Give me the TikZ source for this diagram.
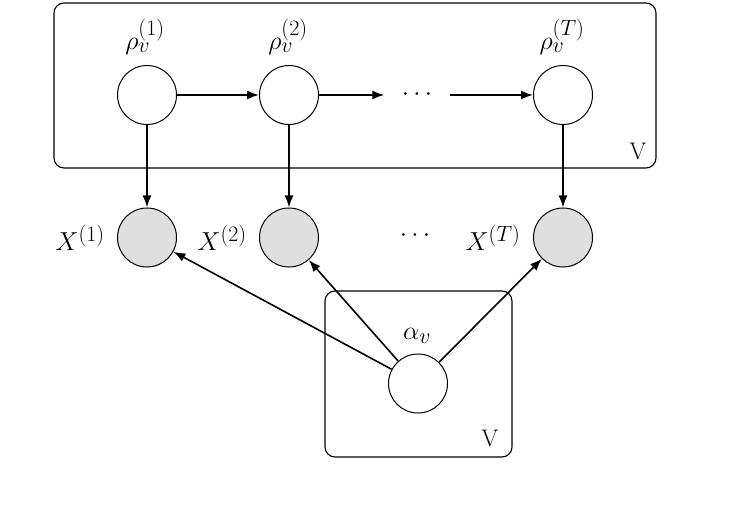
\RequirePackage{fix-cm}
\documentclass[tikz,border=0pt]{standalone}
\usetikzlibrary{arrows.meta}
\DeclareMathSizes{26}{26}{22}{16}
\begin{document}
\begin{tikzpicture}[x=1pt,y=-1pt,
  every node/.style={font=\fontsize{26}{30}\selectfont},
  var/.style={circle,draw,line width=1pt,minimum size=59pt,inner sep=0pt},
  obs/.style={var,fill=gray!25},
  plate/.style={draw,line width=1.1pt,rounded corners=10pt},
  edge/.style={line width=1.6pt,-{Latex[length=12pt,width=9pt]}},
  lbl/.style={inner sep=0pt},
  platelbl/.style={inner sep=0pt,font=\fontsize{24}{28}\selectfont}]
\useasboundingbox (0,0) rectangle (751,518);
% plates
\draw[plate] (54,3) rectangle (656,168);
\draw[plate] (325,291) rectangle (512,457);
\node[platelbl] (V1) at (638,151) {V};
\node[platelbl] (V2) at (490,438) {V};
% latent nodes
\node[var] (r1) at (147,95) {};
\node[var] (r2) at (289,95) {};
\node[var] (rT) at (563,95) {};
\node[lbl,minimum width=65pt] (d1) at (417,95) {$\cdots$};
\node[lbl] (lr1) at (145,37) {$\rho_v^{(1)}$};
\node[lbl] (lr2) at (288,37) {$\rho_v^{(2)}$};
\node[lbl] (lrT) at (562,37) {$\rho_v^{(T)}$};
% observed nodes
\node[obs] (x1) at (147,237.5) {};
\node[obs] (x2) at (289,237.5) {};
\node[obs] (xT) at (563,237.5) {};
\node[lbl] (d2) at (415,236) {$\cdots$};
\node[lbl] (lx1) at (80,238) {$X^{(1)}$};
\node[lbl] (lx2) at (222,238) {$X^{(2)}$};
\node[lbl] (lxT) at (493,238) {$X^{(T)}$};
% alpha
\node[var] (a) at (418,383.5) {};
\node[lbl] (la) at (417,336) {$\alpha_v$};
% edges
\draw[edge] (r1) -- (r2);
\draw[edge] (r2) -- (d1);
\draw[edge] (d1) -- (rT);
\draw[edge] (r1) -- (x1);
\draw[edge] (r2) -- (x2);
\draw[edge] (rT) -- (xT);
\draw[edge] (a) -- (x1);
\draw[edge] (a) -- (x2);
\draw[edge] (a) -- (xT);
\end{tikzpicture}
\end{document}
